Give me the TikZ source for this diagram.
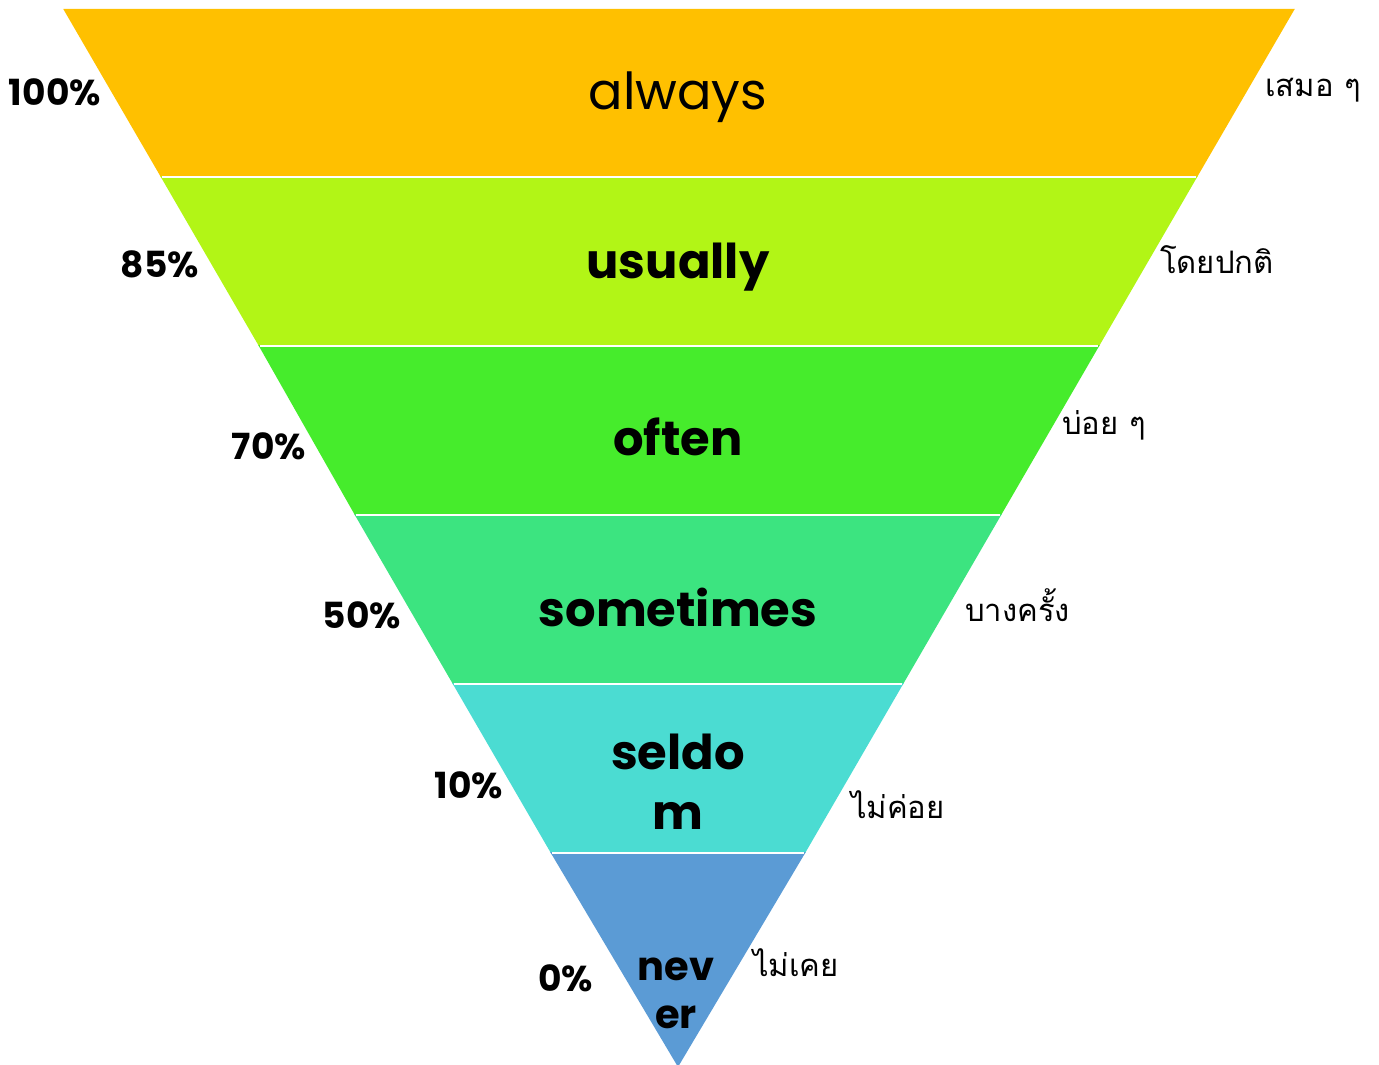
\documentclass[tikz,border=0pt]{standalone}
\usepackage{fontspec}
\setmainfont{Poppins}
\newfontfamily\thaifont[Script=Thai]{Loma}
\definecolor{cAlways}{RGB}{255,192,0}
\definecolor{cUsually}{RGB}{178,245,22}
\definecolor{cOften}{RGB}{70,236,44}
\definecolor{cSometimes}{RGB}{60,228,128}
\definecolor{cSeldom}{RGB}{75,220,210}
\definecolor{cNever}{RGB}{91,155,213}
\tikzset{
  band/.style={draw=white,line width=2pt},
  word/.style={font=\fontsize{48}{60}\selectfont\bfseries,align=center,inner sep=0pt},
  pct/.style={font=\fontsize{36}{42}\selectfont\bfseries,anchor=east,inner sep=0pt},
  thai/.style={font=\thaifont\fontsize{31}{38}\selectfont,anchor=west,inner sep=0pt}
}
\begin{document}
\begin{tikzpicture}[x=1pt,y=-1pt]
\useasboundingbox (0,0) rectangle (1379,1065);
% bands, top to bottom
\fill[band,cAlways] (65,10) -- (1293,10) -- (1196,177) -- (162,177) -- cycle;
\fill[band,cUsually] (162,177) -- (1196,177) -- (1098,346) -- (260,346) -- cycle;
\fill[band,cOften] (260,346) -- (1098,346) -- (1000,515) -- (356,515) -- cycle;
\fill[band,cSometimes] (356,515) -- (1000,515) -- (902,684) -- (454,684) -- cycle;
\fill[band,cSeldom] (454,684) -- (902,684) -- (804,853) -- (552,853) -- cycle;
\fill[band,cNever] (552,853) -- (804,853) -- (678,1065) -- cycle;
\draw[white,line width=2pt] (162,177) -- (1196,177);
\draw[white,line width=2pt] (260,346) -- (1098,346);
\draw[white,line width=2pt] (356,515) -- (1000,515);
\draw[white,line width=2pt] (454,684) -- (902,684);
\draw[white,line width=2pt] (552,853) -- (804,853);

\node[word,font=\fontsize{51}{60}\selectfont] (always) at (678,97) {always};
\node[word] (usually) at (678,267) {usually};
\node[word] (often) at (678,437) {often};
\node[word] (sometimes) at (678,607) {sometimes};
\node[word] (seldom) at (678,782) {seldo\\m};
\node[word,font=\fontsize{40}{48}\selectfont\bfseries] (never) at (676,993) {nev\\er};

\node[pct] (p100) at (101,92) {100\%};
\node[pct] (p85) at (199,264) {85\%};
\node[pct] (p70) at (306,446) {70\%};
\node[pct] (p50) at (401,615) {50\%};
\node[pct] (p10) at (503,785) {10\%};
\node[pct] (p0) at (593,978) {0\%};

\node[thai] (t100) at (1265,90) {เสมอ ๆ};
\node[thai] (t85) at (1160,260) {โดยปกติ};
\node[thai] (t70) at (1062,425) {บ่อย ๆ};
\node[thai] (t50) at (965,605) {บางครั้ง};
\node[thai] (t10) at (851,805) {ไม่ค่อย};
\node[thai] (t0) at (753,963) {ไม่เคย};
\end{tikzpicture}
\end{document}
